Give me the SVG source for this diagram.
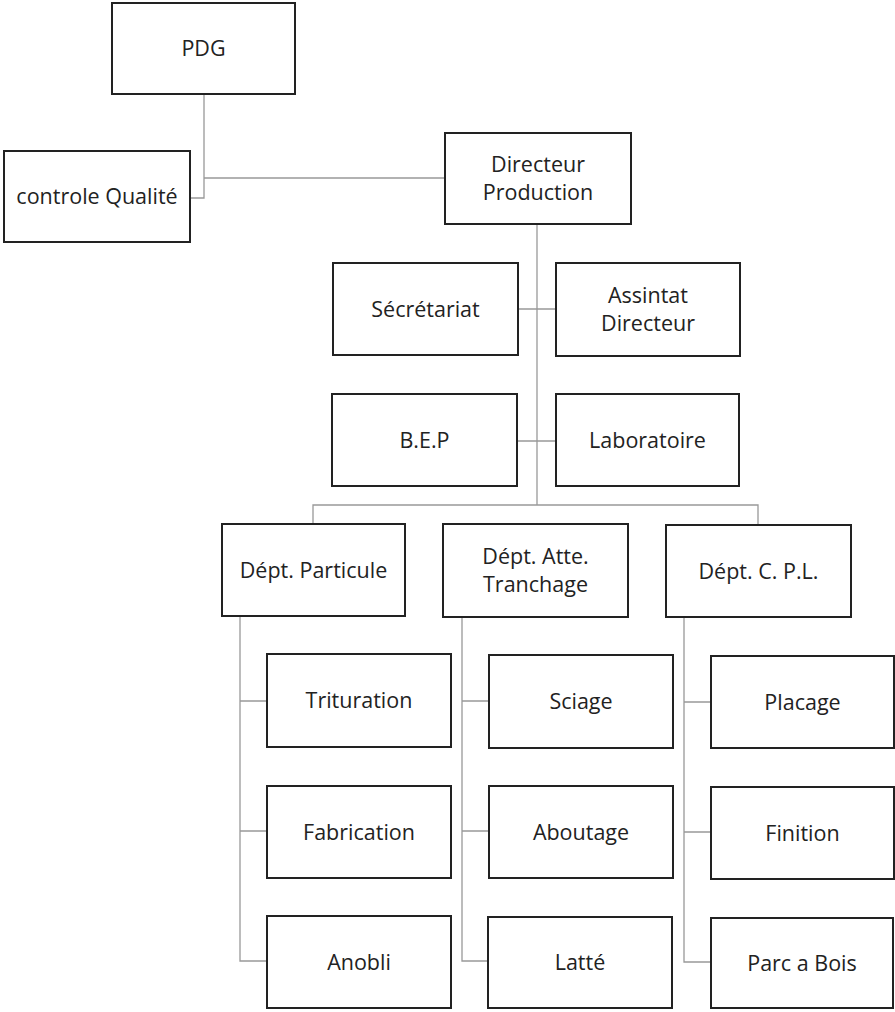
<svg xmlns="http://www.w3.org/2000/svg" width="895" height="1012" viewBox="0 0 895 1012">
<style>
.b{fill:#fff;stroke:#222;stroke-width:2}
.t{font-family:"Open Sans","Liberation Sans",sans-serif;font-size:21.5px;fill:#222;text-anchor:middle}
.c{fill:none;stroke:#999;stroke-width:1.3}
</style>
<rect width="895" height="1012" fill="#fff"/>
<g id="connectors">
<path class="c" d="M204,94 V198 H190"/>
<path class="c" d="M204,178 H445"/>
<path class="c" d="M537,224 V505"/>
<path class="c" d="M518,309 H556"/>
<path class="c" d="M517,441 H556"/>
<path class="c" d="M313,524 V505 H758 V525"/>
<path class="c" d="M240,616 V961 H267 M240,701 H267 M240,831 H267"/>
<path class="c" d="M462,617 V961 H488 M462,701 H489 M462,831 H489"/>
<path class="c" d="M684,617 V962 H711 M684,702 H711 M684,832 H711"/>
</g>
<g id="pdg"><rect class="b" x="112" y="3" width="183" height="91"/><text class="t" x="203.5" y="56">PDG</text></g>
<g id="controle"><rect class="b" x="4" y="151" width="186" height="91"/><text class="t" x="97" y="204">controle Qualité</text></g>
<g id="directeur"><rect class="b" x="445" y="133" width="186" height="91"/><text class="t" x="538" y="172">Directeur</text><text class="t" x="538" y="200">Production</text></g>
<g id="secretariat"><rect class="b" x="333" y="263" width="185" height="92"/><text class="t" x="425.5" y="316.5">Sécrétariat</text></g>
<g id="assistant"><rect class="b" x="556" y="263" width="184" height="93"/><text class="t" x="648" y="303">Assintat</text><text class="t" x="648" y="331">Directeur</text></g>
<g id="bep"><rect class="b" x="332" y="394" width="185" height="92"/><text class="t" x="424.5" y="447.5">B.E.P</text></g>
<g id="labo"><rect class="b" x="556" y="394" width="183" height="92"/><text class="t" x="647.5" y="447.5">Laboratoire</text></g>
<g id="dept-particule"><rect class="b" x="222" y="524" width="183" height="92"/><text class="t" x="313.5" y="577.5">Dépt. Particule</text></g>
<g id="dept-atte"><rect class="b" x="443" y="524" width="185" height="93"/><text class="t" x="535.5" y="564">Dépt. Atte.</text><text class="t" x="535.5" y="592">Tranchage</text></g>
<g id="dept-cpl"><rect class="b" x="666" y="525" width="185" height="92"/><text class="t" x="758.5" y="578.5">Dépt. C. P.L.</text></g>
<g id="trituration"><rect class="b" x="267" y="654" width="184" height="93"/><text class="t" x="359" y="708">Trituration</text></g>
<g id="fabrication"><rect class="b" x="267" y="786" width="184" height="92"/><text class="t" x="359" y="839.5">Fabrication</text></g>
<g id="anobli"><rect class="b" x="267" y="916" width="184" height="92"/><text class="t" x="359" y="969.5">Anobli</text></g>
<g id="sciage"><rect class="b" x="489" y="655" width="184" height="93"/><text class="t" x="581" y="709">Sciage</text></g>
<g id="aboutage"><rect class="b" x="489" y="786" width="184" height="92"/><text class="t" x="581" y="839.5">Aboutage</text></g>
<g id="latte"><rect class="b" x="488" y="917" width="184" height="91"/><text class="t" x="580" y="970">Latté</text></g>
<g id="placage"><rect class="b" x="711" y="656" width="183" height="92"/><text class="t" x="802.5" y="709.5">Placage</text></g>
<g id="finition"><rect class="b" x="711" y="787" width="183" height="92"/><text class="t" x="802.5" y="840.5">Finition</text></g>
<g id="parc"><rect class="b" x="711" y="918" width="182" height="90"/><text class="t" x="802" y="970.5">Parc a Bois</text></g>
</svg>
